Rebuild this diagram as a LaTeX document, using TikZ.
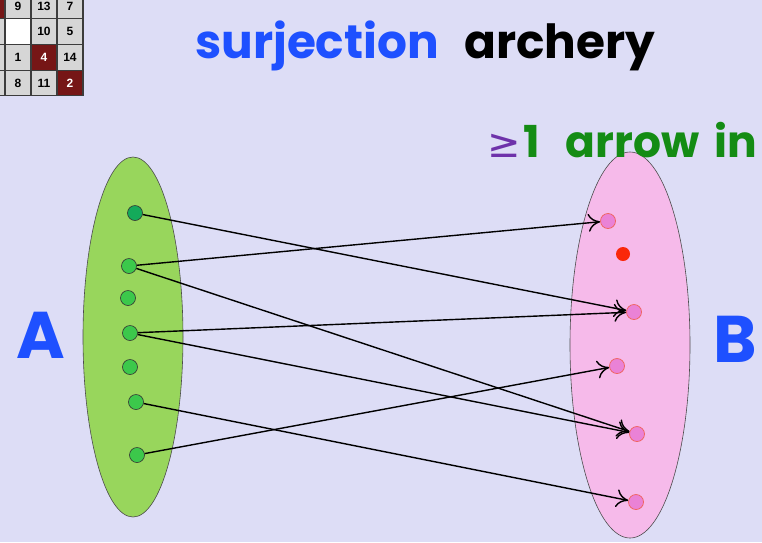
\documentclass[tikz,border=0pt]{standalone}
\usepackage{fontspec}
\setmainfont{Poppins}
\newfontfamily\symfont{DejaVu Sans}
\newfontfamily\gridfont{Liberation Sans}
\usetikzlibrary{arrows.meta,shapes.geometric}

\definecolor{bgcol}{RGB}{221,221,246}
\definecolor{setA}{RGB}{152,214,92}
\definecolor{setB}{RGB}{246,186,234}
\definecolor{dotA}{RGB}{60,200,75}
\definecolor{dotAdark}{RGB}{20,170,90}
\definecolor{dotB}{RGB}{234,130,214}
\definecolor{dotBrim}{RGB}{240,100,100}
\definecolor{redpt}{RGB}{250,40,10}
\definecolor{titleblue}{RGB}{30,80,255}
\definecolor{gegreen}{RGB}{20,140,20}
\definecolor{gepurple}{RGB}{110,50,170}
\definecolor{cellgray}{RGB}{214,214,214}
\definecolor{cellred}{RGB}{118,22,22}
\definecolor{gridline}{RGB}{60,60,60}

\tikzset{
  setshape/.style={ellipse, draw=black!70, line width=0.6pt, inner sep=0pt},
  adot/.style={circle, draw=black!80, line width=0.6pt, fill=dotA, minimum size=15pt, inner sep=0pt},
  bdot/.style={circle, draw=dotBrim, line width=0.8pt, fill=dotB, minimum size=15pt, inner sep=0pt},
  arr/.style={-{To[length=12pt,width=18pt]}, line width=1.4pt, black},
  cell/.style={draw=gridline, line width=1.1pt},
  cellnum/.style={font=\gridfont\bfseries\fontsize{12}{12}\selectfont},
  bigtext/.style={font=\bfseries\fontsize{47}{47}\selectfont, inner sep=0pt},
}

\begin{document}
\begin{tikzpicture}[x=1pt,y=-1pt]
\useasboundingbox (0,0) rectangle (762,542);
\fill[bgcol] (0,0) rectangle (762,542);

% corner of the sliding-tile puzzle
\foreach \c/\r/\f in {0/0/cellred,1/0/cellgray,2/0/cellgray,3/0/cellgray,
                      0/1/cellgray,1/1/white,2/1/cellgray,3/1/cellgray,
                      0/2/cellgray,1/2/cellgray,2/2/cellred,3/2/cellgray,
                      0/3/cellgray,1/3/cellgray,2/3/cellgray,3/3/cellred}
  \filldraw[cell, fill=\f] ({-21+26*\c},{-7+25.7*\r}) rectangle ++(26,25.7);
\foreach \c/\r/\n/\t in {1/0/9/black,2/0/13/black,3/0/7/black,
                         2/1/10/black,3/1/5/black,
                         1/2/1/black,2/2/4/white,3/2/14/black,
                         1/3/8/black,2/3/11/black,3/3/2/white}
  \node[cellnum, text=\t] (t\n) at ({-8+26*\c},{6+25.7*\r}) {\n};

% the two sets
\node[setshape, fill=setA, minimum width=100pt, minimum height=360pt] (A) at (133,337) {};
\node[setshape, fill=setB, minimum width=120pt, minimum height=386pt] (B) at (630,345) {};

% elements of A
\node[adot, fill=dotAdark] (a1) at (135,213) {};
\node[adot] (a2) at (129,266) {};
\node[adot] (a3) at (128,298) {};
\node[adot] (a4) at (130,333) {};
\node[adot] (a5) at (130,367) {};
\node[adot] (a6) at (136,402) {};
\node[adot] (a7) at (137,455) {};

% elements of B
\node[bdot] (b1) at (608,221) {};
\node[circle, fill=redpt, minimum size=14pt, inner sep=0pt] (r) at (623,254) {};
\node[bdot] (b2) at (634,312) {};
\node[bdot] (b3) at (617,366) {};
\node[bdot] (b4) at (637,434) {};
\node[bdot] (b5) at (636,502) {};

% the arrows
\draw[arr] (a1) -- (b2);
\draw[arr] (a2) -- (b1);
\draw[arr] (a2) -- (b4);
\draw[arr] (a4) -- (b2);
\draw[arr] (a4) -- (b4);
\draw[arr] (a6) -- (b5);
\draw[arr] (a7) -- (b3);

% labels
\node[bigtext, text=titleblue, anchor=base west] (t1) at (195,58) {surjection};
\node[bigtext, text=black, anchor=base west] (t2) at (464,58) {archery};
\node[font=\symfont\fontsize{40}{40}\selectfont, text=gepurple, anchor=base west, inner sep=0pt] (ge) at (487,157) {≥};
\node[font=\bfseries\fontsize{44}{44}\selectfont, text=gegreen, anchor=base west, inner sep=0pt] (gt) at (523,157) {1\hspace{26pt}arrow\hspace{15pt}in};
\node[font=\bfseries\fontsize{66}{66}\selectfont, text=titleblue, anchor=base west, inner sep=0pt] (la) at (16,358) {A};
\node[font=\bfseries\fontsize{66}{66}\selectfont, text=titleblue, anchor=base west, inner sep=0pt] (lb) at (713,362) {B};
\end{tikzpicture}
\end{document}
